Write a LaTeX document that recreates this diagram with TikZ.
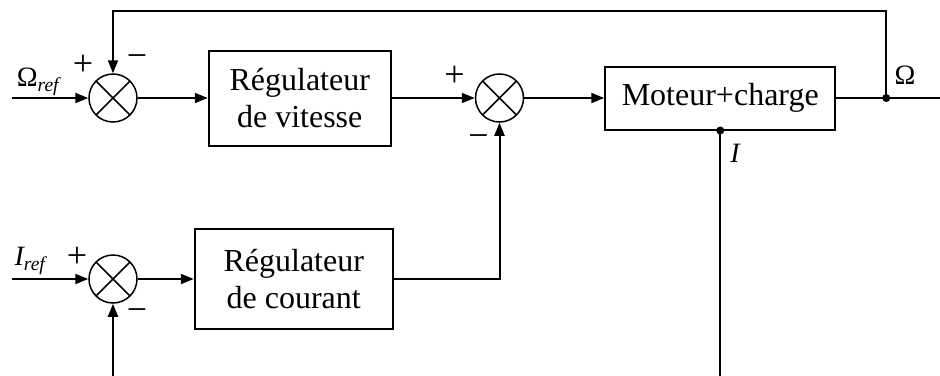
\documentclass[tikz,border=0pt]{standalone}
\usepackage{fontspec}
\setmainfont{Liberation Serif}
\usetikzlibrary{arrows.meta,positioning,calc}
\tikzset{
  bloc/.style={draw,line width=2pt,align=center,font=\fontsize{32}{37}\selectfont,inner sep=2pt,fill=white},
  sommateur/.style={draw,circle,line width=1.5pt,minimum size=48pt,inner sep=0pt,
    path picture={\draw[line width=1.5pt] (path picture bounding box.north west)--(path picture bounding box.south east)
      (path picture bounding box.north east)--(path picture bounding box.south west);}},
  fleche/.style={-{Triangle[length=13pt,width=10pt]},line width=2pt},
  liaison/.style={line width=2pt},
  signe/.style={font=\fontsize{36}{36}\selectfont,inner sep=0pt},
  etiquette/.style={font=\fontsize{28}{28}\selectfont,inner sep=0pt}
}

\begin{document}
\begin{tikzpicture}[x=1pt,y=-1pt]
\useasboundingbox (0,0) rectangle (940,375);
\clip (0,0) rectangle (940,375);
% boucle de vitesse
\node[sommateur] (s1) at (113,98) {};
\node[bloc,minimum width=182pt,minimum height=95pt,right=70pt of s1] (b1) {Régulateur\\de vitesse};
\node[sommateur,right=83pt of b1] (s2) {};
\node[bloc,minimum width=230pt,minimum height=63pt,right=80pt of s2] (b3) {Moteur+charge};
\coordinate[right=50pt of b3] (j);
% boucle de courant
\node[sommateur] (s3) at (113,279) {};
\node[bloc,minimum width=198pt,minimum height=100pt,right=56pt of s3] (b2) {Régulateur\\de courant};
% extremites libres
\coordinate (eO) at (12,98);
\coordinate (eI) at (12,279);
\coordinate[right=72pt of j] (sortie);
\coordinate (haut) at (j |- 0,11);
\coordinate (basI) at (b3.south |- 0,390);
\coordinate (basS) at (s3.south |- 0,390);
% liaisons
\draw[fleche] (eO)--(s1.west);
\draw[fleche] (s1)--(b1);
\draw[fleche] (b1)--(s2);
\draw[fleche] (s2)--(b3);
\draw[fleche] (b3)--(sortie);
\draw[fleche] (j)--(haut) -| (s1.north);
\draw[fleche] (eI)--(s3.west);
\draw[fleche] (s3)--(b2);
\draw[fleche] (b2) -| (s2.south);
\draw[liaison] (b3.south)--(basI);
\draw[fleche] (basS)--(s3.south);
\fill (j) circle (4pt);
\fill (b3.south) circle (4pt);
% signes
\node[signe] (p1) at ($(s1)+(-30,-33)$) {+};
\node[signe] (m1) at ($(s1)+(24,-37)$) {−};
\node[signe] (p2) at ($(s2)+(-45,-22)$) {+};
\node[signe] (m2) at ($(s2)+(-21,43)$) {−};
\node[signe] (p3) at ($(s3)+(-36,-22)$) {+};
\node[signe] (m3) at ($(s3)+(24,36)$) {−};
% etiquettes
\node[etiquette] (lO) at (38,82) {Ω\textsubscript{\itshape ref}};
\node[etiquette] (lI) at (30,261) {\itshape I\textsubscript{ref}};
\node[etiquette] (lOm) at (905,75) {Ω};
\node[etiquette] (lIm) at (735,153) {\itshape I};
\end{tikzpicture}
\end{document}
